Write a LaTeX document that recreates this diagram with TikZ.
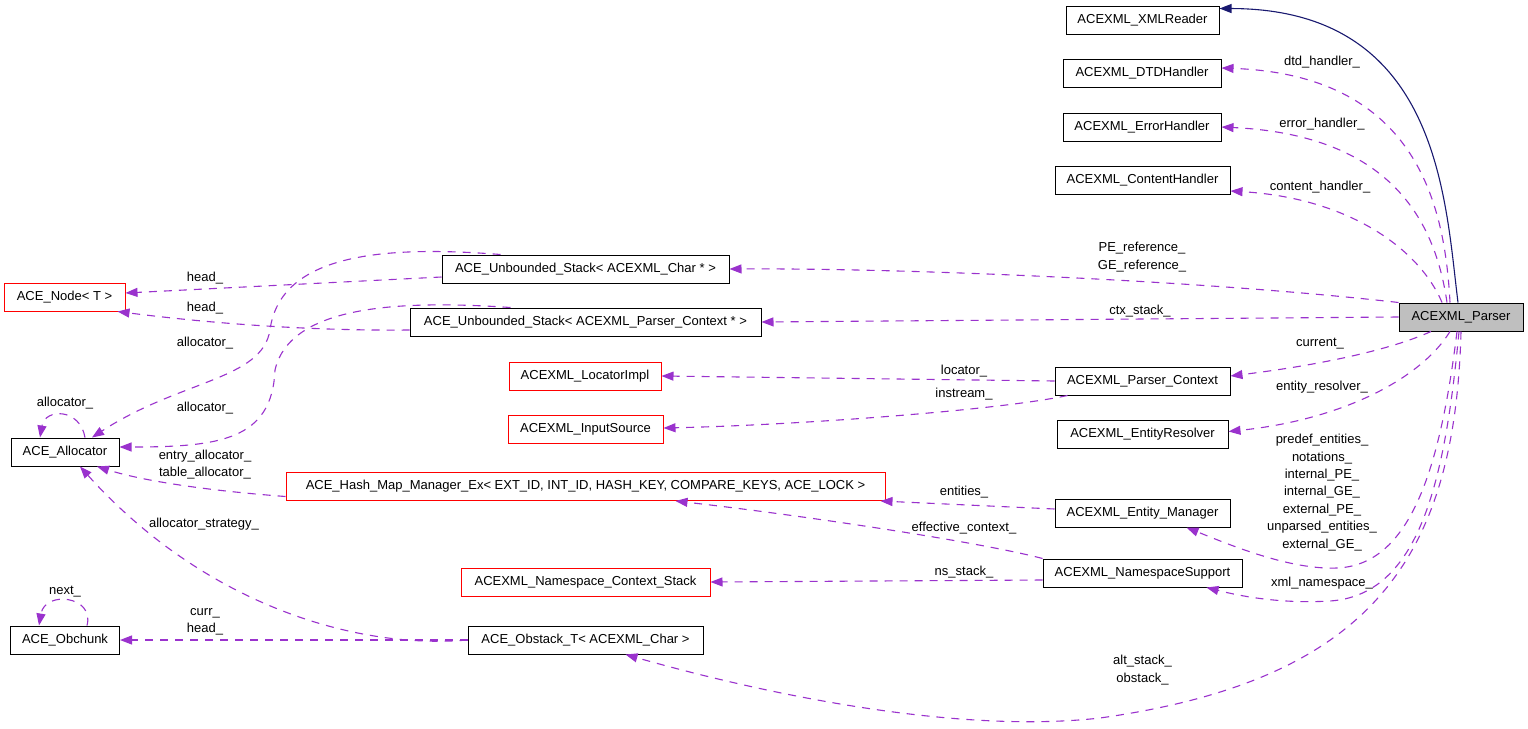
\documentclass[tikz,border=0pt]{standalone}
\usepackage{fontspec}
\setmainfont{Liberation Sans}
\usetikzlibrary{arrows.meta,calc}
\definecolor{orch}{HTML}{9A32CD}
\definecolor{mblue}{HTML}{191970}
\definecolor{grayfill}{HTML}{BFBFBF}
\definecolor{redline}{HTML}{FF0000}
\begin{document}
\begin{tikzpicture}[x=1pt,y=-1pt,
  box/.style={draw=black, line width=1pt, minimum height=28pt, inner sep=0pt, font=\fontsize{13}{15}\selectfont},
  rbox/.style={box, draw=redline},
  dep/.style={draw=orch, line width=1.1pt, dash pattern=on 8pt off 7pt, -{Triangle[length=12pt,width=9pt]}},
  inh/.style={draw=mblue, line width=1.1pt, -{Triangle[length=12pt,width=9pt]}},
  lbl/.style={font=\fontsize{13}{17.5}\selectfont, inner sep=0pt, align=center}]
\useasboundingbox[fill=white] (0,0) rectangle (1528,728);

% nodes
\node[box, minimum width=153pt] (xmlreader) at (1142.5,20) {ACEXML\_XMLReader};
\node[box, minimum width=158pt] (dtd) at (1142,73) {ACEXML\_DTDHandler};
\node[box, minimum width=158pt] (err) at (1142,127) {ACEXML\_ErrorHandler};
\node[box, minimum width=175pt] (content) at (1142.5,180) {ACEXML\_ContentHandler};
\node[box, fill=grayfill, minimum width=124pt] (parser) at (1461,317) {ACEXML\_Parser};
\node[box, minimum width=175pt] (pctx) at (1142.5,381) {ACEXML\_Parser\_Context};
\node[box, minimum width=171pt] (eres) at (1142.5,434.5) {ACEXML\_EntityResolver};
\node[box, minimum width=175pt] (emgr) at (1142.5,513) {ACEXML\_Entity\_Manager};
\node[box, minimum width=199pt] (nss) at (1142.5,573) {ACEXML\_NamespaceSupport};
\node[rbox, minimum width=121pt] (acenode) at (64.5,297) {ACE\_Node< T >};
\node[box, minimum width=108pt] (alloc) at (65,452) {ACE\_Allocator};
\node[box, minimum width=109pt] (obchunk) at (65,640) {ACE\_Obchunk};
\node[box, minimum width=287pt] (uschar) at (585.5,269) {ACE\_Unbounded\_Stack< ACEXML\_Char * >};
\node[box, minimum width=351pt] (uspc) at (585.5,322) {ACE\_Unbounded\_Stack< ACEXML\_Parser\_Context * >};
\node[rbox, minimum width=152pt] (loc) at (585,376) {ACEXML\_LocatorImpl};
\node[rbox, minimum width=155pt] (insrc) at (585.5,429) {ACEXML\_InputSource};
\node[rbox, minimum width=599pt] (hmap) at (585.5,486.5) {ACE\_Hash\_Map\_Manager\_Ex< EXT\_ID, INT\_ID, HASH\_KEY, COMPARE\_KEYS, ACE\_LOCK >};
\node[rbox, minimum width=249pt] (nscs) at (585.5,582) {ACEXML\_Namespace\_Context\_Stack};
\node[box, minimum width=235pt] (obstack) at (585.5,640) {ACE\_Obstack\_T< ACEXML\_Char >};

% edges
\draw[inh] ($(parser.north)+(-3,0)$) .. controls (1445,200) and (1440,9) .. ($(xmlreader.north east)+(0,3)$);
\draw[dep] ($(parser.north)+(-11,0)$) .. controls (1445,210) and (1420,75) .. ($(dtd.east)+(0,-5)$);
\draw[dep] ($(parser.north)+(-14,0)$) .. controls (1435,220) and (1390,135) .. (err.east);
\draw[dep] ($(parser.north)+(-19,0)$) .. controls (1420,250) and (1350,198) .. ($(content.east)+(0,11)$);
\draw[dep] (parser.north west) .. controls (1200,280) and (900,268) .. (uschar.east);
\draw[dep] (parser.west) -- (uspc.east);
\draw[dep] ($(parser.south)+(-30,0)$) .. controls (1390,350) and (1320,365) .. ($(pctx.east)+(0,-5)$);
\draw[dep] ($(parser.south)+(-11,0)$) .. controls (1420,380) and (1340,420) .. ($(eres.east)+(0,-3)$);
\draw[dep] ($(parser.south)+(-4,0)$) .. controls (1440,470) and (1410,565) .. (1337,568) .. controls (1290,570) and (1230,545) .. ($(emgr.south)+(44,0)$);
\draw[dep] ($(parser.south)+(-2,0)$) .. controls (1445,480) and (1420,595) .. (1330,601) .. controls (1280,604) and (1240,596) .. ($(nss.south)+(64,0)$);
\draw[dep] (parser.south) .. controls (1455,560) and (1370,680) .. (1100,718) .. controls (950,735) and (750,690) .. ($(obstack.south)+(40,0)$);
\draw[dep] (pctx.west) -- (loc.east);
\draw[dep] ($(pctx.south west)+(13,0)$) .. controls (1000,410) and (800,425) .. ($(insrc.east)+(0,-1)$);
\draw[dep] ($(emgr.west)+(0,-4)$) -- ($(hmap.south east)+(-5,0)$);
\draw[dep] (nss.north west) .. controls (980,542) and (800,515) .. ($(hmap.south)+(90,0)$);
\draw[dep] ($(nss.west)+(0,7)$) -- (nscs.east);
\draw[dep] ($(uschar.west)+(0,8)$) -- ($(acenode.east)+(0,-4)$);
\draw[dep] ($(uspc.west)+(0,8)$) .. controls (300,331) and (200,322) .. ($(acenode.south east)+(-8,0)$);
\draw[dep] ($(uschar.north)+(-85,0)$) .. controls (380,245) and (280,255) .. (270,330) .. controls (262,380) and (180,380) .. ($(alloc.north)+(27,0)$);
\draw[dep] ($(uspc.north)+(-75,0)$) .. controls (400,300) and (290,305) .. (275,370) .. controls (272,440) and (220,447) .. ($(alloc.east)+(0,-5)$);
\draw[dep] ($(alloc.north)+(20,0)$) .. controls (80,408) and (45,408) .. ($(alloc.north)+(-25,0)$);
\draw[dep] ($(hmap.west)+(0,10)$) .. controls (200,490) and (140,480) .. ($(alloc.south)+(32,0)$);
\draw[dep] (obstack.west) .. controls (350,650) and (200,600) .. ($(alloc.south)+(15,0)$);
\draw[dep] (obstack.west) -- (obchunk.east);
\draw[dep] ($(obchunk.north)+(22,0)$) .. controls (95,596) and (45,590) .. ($(obchunk.north)+(-26,0)$);

% labels
\node[lbl] (l1) at (1322,62) {dtd\_handler\_};
\node[lbl] (l2) at (1322,124.5) {error\_handler\_};
\node[lbl] (l3) at (1320,187) {content\_handler\_};
\node[lbl] (l4) at (1142,257) {PE\_reference\_\\GE\_reference\_};
\node[lbl] (l5) at (1140,311) {ctx\_stack\_};
\node[lbl] (l6) at (1320,344) {current\_};
\node[lbl] (l7) at (1322,387) {entity\_resolver\_};
\node[lbl, font=\fontsize{13}{17.4}\selectfont] (l8) at (1322,492.5) {predef\_entities\_\\notations\_\\internal\_PE\_\\internal\_GE\_\\external\_PE\_\\unparsed\_entities\_\\external\_GE\_};
\node[lbl] (l9) at (1322,583) {xml\_namespace\_};
\node[lbl] (l10) at (1142.5,670) {alt\_stack\_\\obstack\_};
\node[lbl] (l11) at (964,371) {locator\_};
\node[lbl] (l12) at (964,394) {instream\_};
\node[lbl] (l13) at (964,492) {entities\_};
\node[lbl] (l14) at (964,528) {effective\_context\_};
\node[lbl] (l15) at (964,572) {ns\_stack\_};
\node[lbl] (l16) at (205,278) {head\_};
\node[lbl] (l17) at (205,308) {head\_};
\node[lbl] (l18) at (205,343) {allocator\_};
\node[lbl] (l19) at (205,408) {allocator\_};
\node[lbl] (l20) at (65,403) {allocator\_};
\node[lbl] (l21) at (205,464.5) {entry\_allocator\_\\table\_allocator\_};
\node[lbl] (l22) at (204,524) {allocator\_strategy\_};
\node[lbl] (l23) at (205,622) {curr\_\\head\_};
\node[lbl] (l24) at (65,592) {next\_};
\end{tikzpicture}
\end{document}
